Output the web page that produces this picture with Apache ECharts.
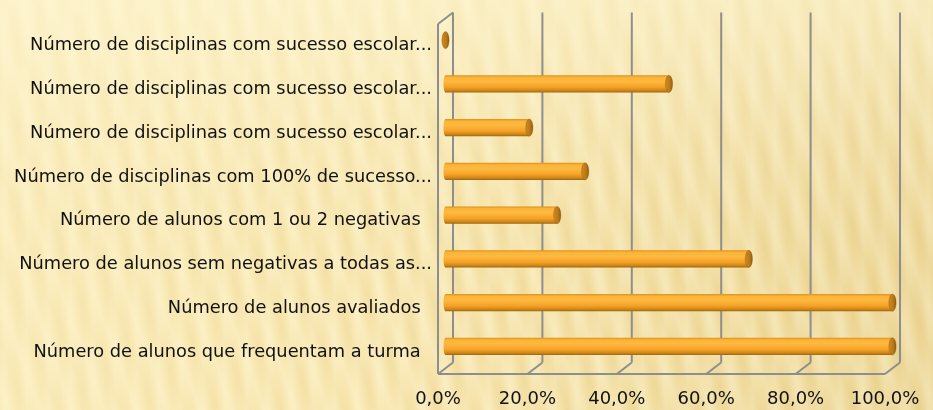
<!DOCTYPE html>
<html>
<head>
<meta charset="utf-8">
<script src="https://cdn.jsdelivr.net/npm/echarts@6/dist/echarts.min.js"></script>
<style>
  html, body { margin: 0; padding: 0; }
  body {
    width: 933px; height: 410px; overflow: hidden;
    background-color: #F6E3A8;
    background-image:
      linear-gradient(to bottom, rgba(255,248,215,0.55) 0%, rgba(255,248,215,0.15) 35%, rgba(0,0,0,0) 60%),
      linear-gradient(to right, rgba(255,245,205,0.45) 0%, rgba(255,245,205,0.2) 40%, rgba(170,130,40,0.10) 100%),
      repeating-linear-gradient(70deg, rgba(255,250,225,0.0) 0px, rgba(255,250,225,0.3) 8px, rgba(255,250,225,0.0) 16px, rgba(200,160,60,0.08) 24px, rgba(255,250,225,0.0) 30px),
      repeating-linear-gradient(90deg, rgba(255,250,225,0.0) 0px, rgba(255,250,225,0.25) 5px, rgba(255,250,225,0.0) 11px, rgba(200,160,60,0.06) 17px, rgba(255,250,225,0.0) 22px);
  }
  #chart { width: 933px; height: 410px; }
</style>
</head>
<body>
<div id="chart"></div>
<script>
// Categories listed bottom to top (category axis grows upwards)
const categories = [
  'Número de alunos que frequentam a turma  ',
  'Número de alunos avaliados  ',
  'Número de alunos sem negativas a todas as...',
  'Número de alunos com 1 ou 2 negativas  ',
  'Número de disciplinas com 100% de sucesso...',
  'Número de disciplinas com sucesso escolar...',
  'Número de disciplinas com sucesso escolar...',
  'Número de disciplinas com sucesso escolar...'
];
// Percentages for each category, same order
const values = [100, 100, 67.86, 25, 31.25, 18.75, 50, 0];
// Tick values of the percentage axis
const ticks = [0, 20, 40, 60, 80, 100];

// Perspective offset of the back wall relative to the front plane
const DEPTH_X = 15;
const DEPTH_Y = -11.5;
const WALL_COLOR = '#8E8E8E';
const FONT = 'DejaVu Sans';

const chart = echarts.init(document.getElementById('chart'), null, { renderer: 'canvas' });

function fmtPct(v) {
  return v.toFixed(1).replace('.', ',') + '%';
}

// Walls and floor of the 3D frame, one group per tick value
function renderWalls(params, api) {
  const v = api.value(0);
  const cs = params.coordSys;
  const top = cs.y, bottom = cs.y + cs.height;
  const x = api.coord([v, 0])[0];
  const style = { stroke: WALL_COLOR, lineWidth: 2 };
  const children = [
    // vertical line on the back wall
    { type: 'line', shape: { x1: x + DEPTH_X, y1: top + DEPTH_Y, x2: x + DEPTH_X, y2: bottom + DEPTH_Y }, style },
    // diagonal on the floor
    { type: 'line', shape: { x1: x, y1: bottom, x2: x + DEPTH_X, y2: bottom + DEPTH_Y }, style }
  ];
  if (params.dataIndex === 0) {
    // left side wall and the front edge of the floor
    children.push(
      { type: 'line', shape: { x1: x, y1: top, x2: x, y2: bottom }, style },
      { type: 'line', shape: { x1: x, y1: top, x2: x + DEPTH_X, y2: top + DEPTH_Y }, style },
      { type: 'line', shape: { x1: cs.x, y1: bottom, x2: cs.x + cs.width, y2: bottom }, style }
    );
  }
  return { type: 'group', children };
}

// Cylinder bars placed half way into the depth of the frame
function renderCylinder(params, api) {
  const v = api.value(0);
  const c = api.value(1);
  const p0 = api.coord([0, c]);
  const p1 = api.coord([v, c]);
  const band = api.size([0, 1])[1];
  const h = band * 0.39;
  const cy = p0[1] + DEPTH_Y / 2;
  const x0 = p0[0] + DEPTH_X / 2;
  const x1 = p1[0] + DEPTH_X / 2;
  const rx = 3.6;
  const bodyFill = new echarts.graphic.LinearGradient(0, 0, 0, 1, [
    { offset: 0, color: '#E0901C' },
    { offset: 0.12, color: '#FBB43A' },
    { offset: 0.35, color: '#FFB93F' },
    { offset: 0.7, color: '#F4A125' },
    { offset: 0.9, color: '#CC8418' },
    { offset: 1, color: '#9E6510' }
  ]);
  const capFill = new echarts.graphic.LinearGradient(0, 0, 1, 0, [
    { offset: 0, color: '#D08C22' },
    { offset: 0.6, color: '#B97817' },
    { offset: 1, color: '#8E5A0E' }
  ]);
  const children = [];
  if (x1 - x0 > 0.5) {
    children.push(
      { type: 'ellipse', shape: { cx: x0, cy, rx: 2, ry: h / 2 }, style: { fill: bodyFill } },
      { type: 'rect', shape: { x: x0, y: cy - h / 2, width: x1 - x0, height: h }, style: { fill: bodyFill } }
    );
  }
  children.push({
    type: 'ellipse',
    shape: { cx: x1, cy, rx, ry: h / 2 },
    style: { fill: capFill, stroke: 'rgba(120,75,10,0.5)', lineWidth: 0.6 }
  });
  return { type: 'group', children };
}

chart.setOption({
  backgroundColor: 'transparent',
  animation: false,
  grid: { left: 438, right: 48, top: 24, bottom: 36, containLabel: false },
  xAxis: {
    type: 'value',
    min: 0,
    max: 100,
    interval: 20,
    axisLine: { show: false },
    axisTick: { show: false },
    splitLine: { show: false },
    axisLabel: {
      margin: 16,
      color: '#111',
      fontFamily: FONT,
      fontSize: 18,
      formatter: fmtPct
    }
  },
  yAxis: {
    type: 'category',
    data: categories,
    axisLine: { show: false },
    axisTick: { show: false },
    splitLine: { show: false },
    axisLabel: {
      margin: 6,
      color: '#111',
      fontFamily: FONT,
      fontSize: 17.8
    }
  },
  series: [
    {
      type: 'custom',
      name: 'frame',
      silent: true,
      z: 1,
      renderItem: renderWalls,
      data: ticks.map(t => [t]),
      encode: { x: 0 }
    },
    {
      type: 'custom',
      name: 'percent',
      z: 2,
      renderItem: renderCylinder,
      data: values.map((v, i) => [v, i]),
      encode: { x: 0, y: 1 }
    }
  ]
});
</script>
</body>
</html>
